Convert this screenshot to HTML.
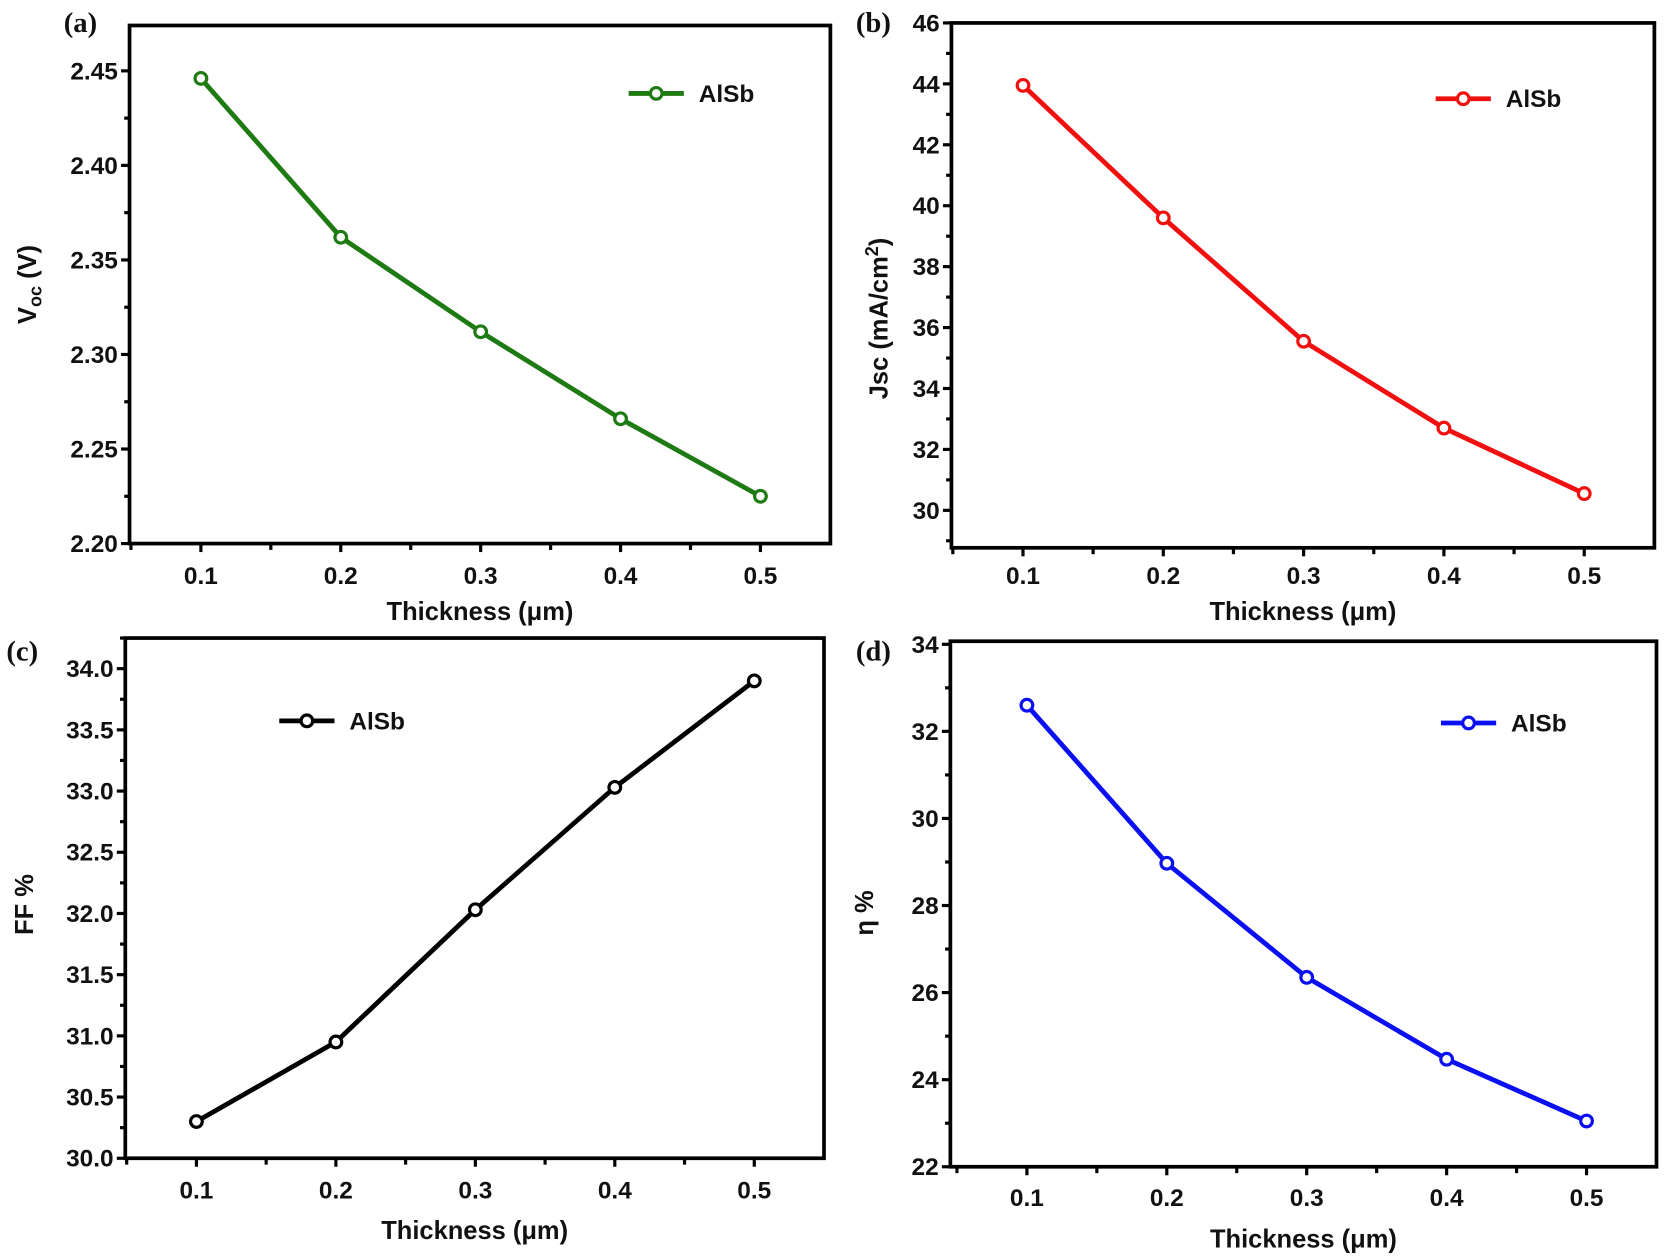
<!DOCTYPE html>
<html><head><meta charset="utf-8"><style>
html,body{margin:0;padding:0;background:#fff;}
svg{display:block;}
text{font-family:"Liberation Sans",Arial,sans-serif;font-weight:bold;fill:#111;}
.serif{font-family:"Liberation Serif",serif;}
</style></head><body>
<svg id="s" width="1665" height="1257" viewBox="0 0 1568 1184" preserveAspectRatio="none" xmlns="http://www.w3.org/2000/svg">
<rect width="1568" height="1184" fill="#fff"/>
</svg>
<script>
const S=document.getElementById('s');
let h='';
function P(o){
  const {L,R,T,B,x0,x1,y0,y1,yMaj,yMinor,yDec,data,color,leg,lab,lx,ly,ylab,xlabY,tickY}=o;
  const X=v=>L+(v-x0)/(x1-x0)*(R-L);
  const Y=v=>B-(v-y0)/(y1-y0)*(B-T);
  h+=`<rect x="${L}" y="${T}" width="${R-L}" height="${B-T}" fill="none" stroke="#000" stroke-width="3.5"/>`;
  for(let v=Math.ceil(y0/yMinor-1e-6)*yMinor; v<=y1+1e-9; v+=yMinor){
    const vv=Math.round(v*1000)/1000;
    const maj=Math.abs(vv/yMaj-Math.round(vv/yMaj))<1e-6;
    const y=Y(vv);
    h+=`<line x1="${L}" x2="${L-(maj?8:5)}" y1="${y}" y2="${y}" stroke="#000" stroke-width="3"/>`;
    if(maj) h+=`<text x="${L-11}" y="${y+8}" font-size="23" text-anchor="end">${vv.toFixed(yDec)}</text>`;
  }
  for(let i=0;i<=9;i++){
    const v=0.05+0.05*i; if(v>x1+1e-9) break;
    if(v<x0) continue;
    const x=X(v); const maj=i%2==1;
    h+=`<line x1="${x}" x2="${x}" y1="${B}" y2="${B+(maj?8:6)}" stroke="#000" stroke-width="3"/>`;
    if(maj) h+=`<text x="${x}" y="${tickY}" font-size="23" text-anchor="middle">${v.toFixed(1)}</text>`;
  }
  h+=`<text x="${(L+R)/2}" y="${xlabY}" font-size="24" text-anchor="middle">Thickness (μm)</text>`;
  const pts=data.map((d,i)=>[X(0.1+0.1*i),Y(d)]);
  h+=`<polyline points="${pts.map(p=>p.join(',')).join(' ')}" fill="none" stroke="${color}" stroke-width="4.5" stroke-linejoin="round"/>`;
  pts.forEach(p=>h+=`<circle cx="${p[0]}" cy="${p[1]}" r="5.5" fill="#fff" stroke="${color}" stroke-width="3"/>`);
  const [a,b]=leg;
  h+=`<line x1="${a}" x2="${a+52}" y1="${b}" y2="${b}" stroke="${color}" stroke-width="4.5"/><circle cx="${a+26}" cy="${b}" r="5.5" fill="#fff" stroke="${color}" stroke-width="3"/>`;
  h+=`<text x="${a+66}" y="${b+8}" font-size="23">AlSb</text>`;
  h+=`<text class="serif" x="${lx}" y="${ly}" font-size="27">${lab}</text>`;
  h+=ylab;
}
P({L:122,R:782,T:24,B:512,x0:0.049,x1:0.55,y0:2.2,y1:2.474,yMaj:0.05,yMinor:0.025,yDec:2,
 data:[2.446,2.362,2.312,2.266,2.225],color:'#1e7a12',leg:[592,88],lab:'(a)',lx:60,ly:30,
 tickY:550,xlabY:584,
 ylab:`<text transform="translate(34,268) rotate(-90)" font-size="24" text-anchor="middle">V<tspan font-size="17" dy="5">oc</tspan><tspan dy="-5"> (V)</tspan></text>`});
P({L:896,R:1558,T:21.6,B:516,x0:0.049,x1:0.55,y0:28.77,y1:46,yMaj:2,yMinor:1,yDec:0,
 data:[43.95,39.6,35.55,32.7,30.55],color:'#f01010',leg:[1352,93],lab:'(b)',lx:806,ly:30,
 tickY:550,xlabY:584,
 ylab:`<text transform="translate(836,300) rotate(-90)" font-size="24" text-anchor="middle">Jsc (mA/cm<tspan font-size="17" dy="-9">2</tspan><tspan dy="9">)</tspan></text>`});
P({L:118,R:776,T:601,B:1091,x0:0.049,x1:0.55,y0:30,y1:34.25,yMaj:0.5,yMinor:0.25,yDec:1,
 data:[30.3,30.95,32.03,33.03,33.9],color:'#000',leg:[263,679],lab:'(c)',lx:6,ly:622,
 tickY:1129,xlabY:1167,
 ylab:`<text transform="translate(31,852) rotate(-90)" font-size="24" text-anchor="middle">FF %</text>`});
P({L:895,R:1560,T:604,B:1099,x0:0.0453,x1:0.55,y0:22,y1:34.07,yMaj:2,yMinor:1,yDec:0,
 data:[32.6,28.97,26.35,24.47,23.05],color:'#0a10f0',leg:[1357,681],lab:'(d)',lx:806,ly:622,
 tickY:1136,xlabY:1175,
 ylab:`<text transform="translate(822,860) rotate(-90)" font-size="24" text-anchor="middle">η %</text>`});
S.insertAdjacentHTML('beforeend',h);
</script>
</body></html>
